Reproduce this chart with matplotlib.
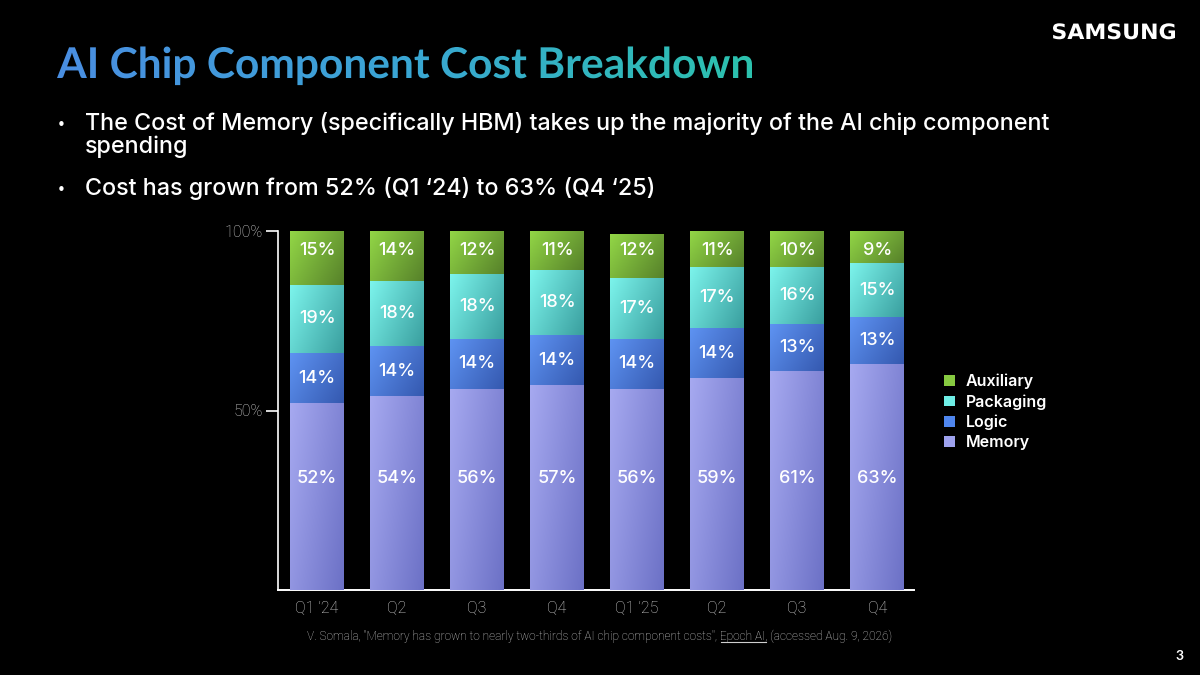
import numpy as np
import matplotlib
matplotlib.use("Agg")
import matplotlib.pyplot as plt
from matplotlib.colors import LinearSegmentedColormap, to_rgb
from matplotlib.font_manager import FontProperties
from matplotlib.textpath import TextPath
from matplotlib.patches import PathPatch, Patch
from matplotlib.transforms import Affine2D

# data
quarters = ["Q1 \u201924", "Q2", "Q3", "Q4", "Q1 \u201925", "Q2", "Q3", "Q4"]
memory = [52, 54, 56, 57, 56, 59, 61, 63]
logic = [14, 14, 14, 14, 14, 14, 13, 13]
packaging = [19, 18, 18, 18, 17, 17, 16, 15]
auxiliary = [15, 14, 12, 11, 12, 11, 10, 9]
series_names = ["Memory", "Logic", "Packaging", "Auxiliary"]

TITLE = "AI Chip Component Cost Breakdown"
BULLET1 = ["The Cost of Memory (specifically HBM) takes up the majority of the AI chip component",
           "spending"]
BULLET2 = "Cost has grown from 52% (Q1 \u201824) to 63% (Q4 \u201825)"
SRC_A = "V. Somala, \"Memory has grown to nearly two-thirds of AI chip component costs\", "
SRC_B = "Epoch AI"
SRC_C = ", (accessed Aug. 9, 2026)"

# (light, dark) for each series
colors = {
    "Memory": ("#a6a9f0", "#6c71c6"),
    "Logic": ("#5e93f2", "#3559b0"),
    "Packaging": ("#7cf4ec", "#3a9f9f"),
    "Auxiliary": ("#92d646", "#57822a"),
}
legend_cols = {"Memory": "#9ea2ee", "Logic": "#4f86ee", "Packaging": "#6eeee6", "Auxiliary": "#86c940"}

W, H = 1200, 675
fig = plt.figure(figsize=(12, 6.75), dpi=100, facecolor="black")


def grad_img(c1, c2, n=40):
    a, b = np.array(to_rgb(c1)), np.array(to_rgb(c2))
    xx, yy = np.meshgrid(np.linspace(0, 1, n), np.linspace(0, 1, n))
    t = np.clip(0.65 * xx + 0.35 * yy, 0, 1)[..., None]
    return a * (1 - t) + b * t


# ---- chart ----
ax = fig.add_axes([278 / W, 1 - 590 / H, (914 - 278) / W, (590 - 231) / H])
ax.set_facecolor("black")
x = np.arange(len(quarters))
bw = 0.67
bottom = np.zeros(len(quarters))
for name, vals in zip(series_names, [memory, logic, packaging, auxiliary]):
    vals = np.array(vals, dtype=float)
    bars = ax.bar(x, vals, bw, bottom=bottom, color=colors[name][0], edgecolor="none", zorder=2)
    img = grad_img(*colors[name])
    for i, b in enumerate(bars):
        x0, y0 = b.get_x(), b.get_y()
        y1 = min(y0 + b.get_height(), 100)
        ax.imshow(img, extent=[x0, x0 + b.get_width(), y0, y1], aspect="auto",
                  interpolation="bilinear", zorder=3)
        if name == "Memory":
            ly = 31
        elif name == "Auxiliary":
            ly = 94.6
        else:
            ly = y0 + vals[i] / 2
        ax.text(x[i], ly, f"{int(vals[i])}%", ha="center", va="center", color="white",
                fontsize=13, family="Inter", fontweight="medium", zorder=5)
    bottom += vals

ax.set_xlim(-0.4875, 7.46)
ax.set_ylim(0, 100)
for s in ["top", "right"]:
    ax.spines[s].set_visible(False)
ax.spines["left"].set_color("white")
ax.spines["bottom"].set_color("white")
ax.spines["left"].set_linewidth(1.2)
ax.spines["bottom"].set_linewidth(1.4)
ax.set_yticks([50, 100])
ax.set_yticklabels(["50%", "100%"])
ax.set_xticks(x)
ax.set_xticklabels(quarters)
ax.tick_params(axis="y", colors="white", labelcolor="#d0d0d0", length=9, width=1.2, labelsize=11.5, pad=2)
ax.tick_params(axis="x", length=0, labelcolor="#cfcfcf", labelsize=11.5, pad=7)
for lab in ax.get_xticklabels() + ax.get_yticklabels():
    lab.set_family("Roboto")
    lab.set_fontweight("light")

handles = [Patch(facecolor=legend_cols[n], edgecolor="none") for n in series_names[::-1]]
leg = fig.legend(handles, series_names[::-1], loc="center left",
                 bbox_to_anchor=(930 / W, 1 - 412 / H), frameon=False,
                 handlelength=0.65, handleheight=0.65, handletextpad=0.7, labelspacing=0.32,
                 prop=FontProperties(family="Inter", weight="semibold", size=11.5))
for t in leg.get_texts():
    t.set_color("white")

# ---- overlay in pixel coords (y up) ----
ov = fig.add_axes([0, 0, 1, 1], zorder=10)
ov.set_xlim(0, W)
ov.set_ylim(0, H)
ov.axis("off")
ov.patch.set_alpha(0)


def fitted_path(text, prop, left, base_y, width=None, height=None):
    tp = TextPath((0, 0), text, size=40, prop=prop)
    ext = tp.get_extents()
    sx = width / ext.width if width else None
    sy = height / ext.height if height else sx
    if sx is None:
        sx = sy
    tr = Affine2D().translate(-ext.x0, 0).scale(sx, sy).translate(left, base_y)
    return tr.transform_path(tp)


# title with blue->teal gradient
tpath = fitted_path(TITLE, FontProperties(family="Lato", weight="bold"), 57, H - 78, width=695)
tpatch = PathPatch(tpath, facecolor="none", edgecolor="none")
ov.add_patch(tpatch)
tcmap = LinearSegmentedColormap.from_list("tt", ["#4a8ee2", "#3aa6d4", "#2cc2ae"])
gi = ov.imshow(np.linspace(0, 1, 256)[None, :], cmap=tcmap, extent=[57, 752, H - 95, H - 40],
               aspect="auto", interpolation="bilinear")
gi.set_clip_path(tpatch)

# logo
lpath = fitted_path("SAMSUNG", FontProperties(family="DejaVu Sans", weight="bold"), 1053, H - 39,
                    width=122, height=16)
ov.add_patch(PathPatch(lpath, facecolor="white", edgecolor="none"))

# bullets
bfont = dict(family="Inter", fontsize=16.8, color="white", fontweight="medium")
dfont = dict(family="DejaVu Sans", fontsize=11, color="white")
ov.text(57, H - 130, "\u2022", ha="left", va="baseline", **dfont)
ov.text(85, H - 130, BULLET1[0], ha="left", va="baseline", **bfont)
ov.text(85, H - 153, BULLET1[1], ha="left", va="baseline", **bfont)
ov.text(57, H - 195, "\u2022", ha="left", va="baseline", **dfont)
ov.text(85, H - 195, BULLET2, ha="left", va="baseline", **bfont)

# source line with underlined link
sfont = dict(family="Roboto", fontsize=8.6, color="#cfcfcf", fontweight="light")
full = ov.text(600, H - 640, SRC_A + SRC_B + SRC_C, ha="center", va="baseline", **sfont)
fig.canvas.draw()
r = fig.canvas.get_renderer()
bb = full.get_window_extent(r)
tmp = ov.text(0, 0, SRC_A, **sfont)
w0 = tmp.get_window_extent(r).width
tmp.set_text(SRC_A + SRC_B)
w1 = tmp.get_window_extent(r).width
tmp.remove()
ov.plot([bb.x0 + w0 + 1, bb.x0 + w1], [H - 642, H - 642], color="#cfcfcf", lw=0.8)

ov.text(1180, H - 660, "3", ha="center", va="baseline", color="white", fontsize=10,
        family="Lato", fontweight="bold")

fig.savefig("out.png", dpi=100, facecolor="black")
